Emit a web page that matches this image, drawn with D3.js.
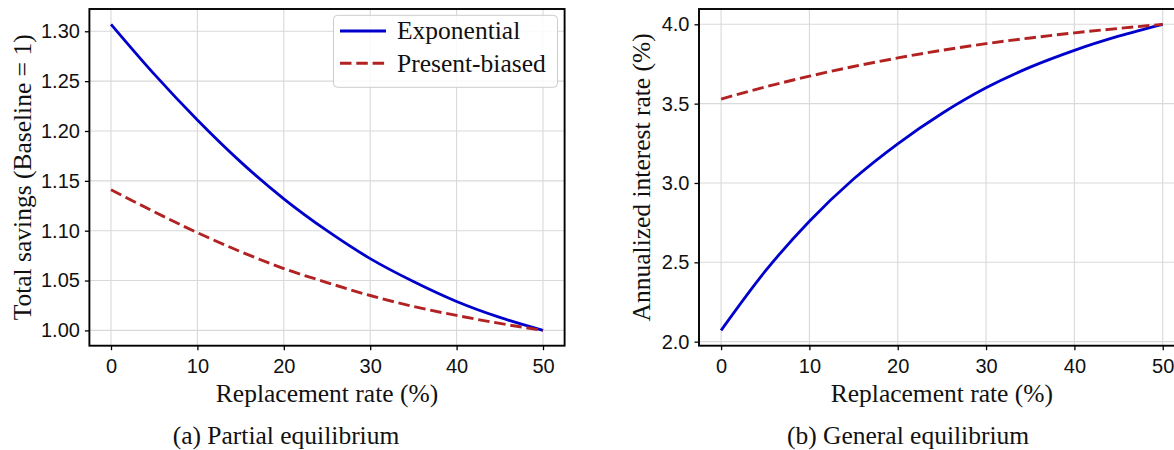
<!DOCTYPE html>
<html>
<head>
<meta charset="utf-8">
<script src="https://cdn.jsdelivr.net/npm/d3@7"></script>
<style>
  html, body { margin: 0; padding: 0; background: #fff; }
  svg { display: block; }
  .tick text { font-family: "Liberation Sans", sans-serif; font-size: 20px; fill: #111; }
  .serif { font-family: "Liberation Serif", serif; font-size: 25.5px; fill: #111; }
</style>
</head>
<body>
<svg id="chart" width="1174" height="450"></svg>
<script>
// Replacement rate (%) grid used by both panels
const replacementRate = [0, 5, 10, 15, 20, 25, 30, 35, 40, 45, 50];

// (a) Partial equilibrium: total savings relative to baseline
const savingsExponential   = [1.307, 1.257, 1.211, 1.169, 1.132, 1.100, 1.072, 1.049, 1.029, 1.013, 1.000];
const savingsPresentBiased = [1.141, 1.119, 1.098, 1.079, 1.062, 1.048, 1.035, 1.024, 1.015, 1.007, 1.000];

// (b) General equilibrium: annualized interest rate (%)
const rateExponential   = [2.071, 2.444, 2.759, 3.025, 3.247, 3.438, 3.600, 3.730, 3.836, 3.925, 4.000];
const ratePresentBiased = [3.529, 3.605, 3.673, 3.734, 3.788, 3.836, 3.878, 3.914, 3.946, 3.974, 4.000];

// Tick values
const xTicks       = [0, 10, 20, 30, 40, 50];
const savingsTicks = [1.00, 1.05, 1.10, 1.15, 1.20, 1.25, 1.30];
const rateTicks    = [2.0, 2.5, 3.0, 3.5, 4.0];

const seriesNames = ["Exponential", "Present-biased"];
const xTitle = "Replacement rate (%)";

const svg = d3.select("#chart");

const styles = {
  exp: { color: "#0000cd", width: 2.8, dash: null },
  pb:  { color: "#b22222", width: 2.9, dash: "11.5,4.8" }
};

// Matplotlib-like autoscale: 5% margins around the data
function padded(arrs) {
  const all = arrs.flat();
  const lo = d3.min(all), hi = d3.max(all);
  const p = (hi - lo) * 0.05;
  return [lo - p, hi + p];
}

function drawPanel(cfg) {
  const { box, series, yTicks, yFmt, yTitle, yTitleX, caption, captionX, legend } = cfg;
  const g = svg.append("g");

  const xExt = d3.extent(replacementRate);
  const xp = (xExt[1] - xExt[0]) * 0.05;
  const x = d3.scaleLinear().domain([xExt[0] - xp, xExt[1] + xp]).range([box.left, box.right]);
  const y = d3.scaleLinear().domain(padded(series.map(s => s.values))).range([box.bottom, box.top]);

  // grid
  const grid = g.append("g").attr("stroke", "#d9d9d9").attr("stroke-width", 1.1);
  grid.selectAll("line.gx").data(xTicks).join("line")
    .attr("x1", d => x(d)).attr("x2", d => x(d))
    .attr("y1", box.top).attr("y2", box.bottom);
  grid.selectAll("line.gy").data(yTicks).join("line")
    .attr("x1", box.left).attr("x2", box.right)
    .attr("y1", d => y(d)).attr("y2", d => y(d));

  // series
  const line = d3.line()
    .x((d, i) => x(replacementRate[i]))
    .y(d => y(d))
    .curve(d3.curveMonotoneX);
  series.forEach(s => {
    const st = styles[s.key];
    g.append("path")
      .attr("d", line(s.values))
      .attr("fill", "none")
      .attr("stroke", st.color)
      .attr("stroke-width", st.width)
      .attr("stroke-dasharray", st.dash);
  });

  // axes
  const xAxis = g.append("g")
    .attr("transform", `translate(0,${box.bottom})`)
    .call(d3.axisBottom(x).tickValues(xTicks).tickSize(4.5).tickPadding(8.6).tickFormat(d3.format("d")));
  const yAxis = g.append("g")
    .attr("transform", `translate(${box.left},0)`)
    .call(d3.axisLeft(y).tickValues(yTicks).tickSize(4.5).tickPadding(5).tickFormat(d3.format(yFmt)));
  [xAxis, yAxis].forEach(a => {
    a.select(".domain").remove();
    a.selectAll(".tick line").attr("stroke", "#000").attr("stroke-width", 1.3);
  });

  // spines
  g.append("rect")
    .attr("x", box.left).attr("y", box.top)
    .attr("width", box.right - box.left).attr("height", box.bottom - box.top)
    .attr("fill", "none").attr("stroke", "#000").attr("stroke-width", 1.9);

  // axis titles
  g.append("text").attr("class", "serif")
    .attr("x", (box.left + box.right) / 2).attr("y", 401.5)
    .attr("text-anchor", "middle").text(xTitle);
  g.append("text").attr("class", "serif")
    .attr("transform", `translate(${yTitleX},${(box.top + box.bottom) / 2}) rotate(-90)`)
    .attr("text-anchor", "middle").text(yTitle);

  // caption
  g.append("text").attr("class", "serif")
    .attr("x", captionX).attr("y", 443.5)
    .attr("text-anchor", "middle").text(caption);

  if (legend) {
    const lg = g.append("g");
    lg.append("rect")
      .attr("x", 333.5).attr("y", 15.3).attr("width", 224).attr("height", 72)
      .attr("rx", 4).attr("fill", "#fff").attr("fill-opacity", 0.85)
      .attr("stroke", "#cccccc").attr("stroke-width", 1);
    series.forEach((s, i) => {
      const st = styles[s.key];
      const ly = 31 + i * 32.3;
      lg.append("line")
        .attr("x1", 340).attr("x2", 386).attr("y1", ly).attr("y2", ly)
        .attr("stroke", st.color).attr("stroke-width", st.width)
        .attr("stroke-dasharray", st.dash);
      lg.append("text").attr("class", "serif")
        .attr("x", 397).attr("y", ly + 8.3)
        .text(seriesNames[i]);
    });
  }
}

drawPanel({
  box: { left: 89.4, right: 564.6, top: 9, bottom: 345.7 },
  series: [{ key: "exp", values: savingsExponential }, { key: "pb", values: savingsPresentBiased }],
  yTicks: savingsTicks, yFmt: ".2f",
  yTitle: "Total savings (Baseline = 1)", yTitleX: 30.5,
  caption: "(a) Partial equilibrium", captionX: 286,
  legend: true
});

drawPanel({
  box: { left: 699, right: 1184.8, top: 9, bottom: 345.7 },
  series: [{ key: "exp", values: rateExponential }, { key: "pb", values: ratePresentBiased }],
  yTicks: rateTicks, yFmt: ".1f",
  yTitle: "Annualized interest rate (%)", yTitleX: 650,
  caption: "(b) General equilibrium", captionX: 908,
  legend: false
});
</script>
</body>
</html>
